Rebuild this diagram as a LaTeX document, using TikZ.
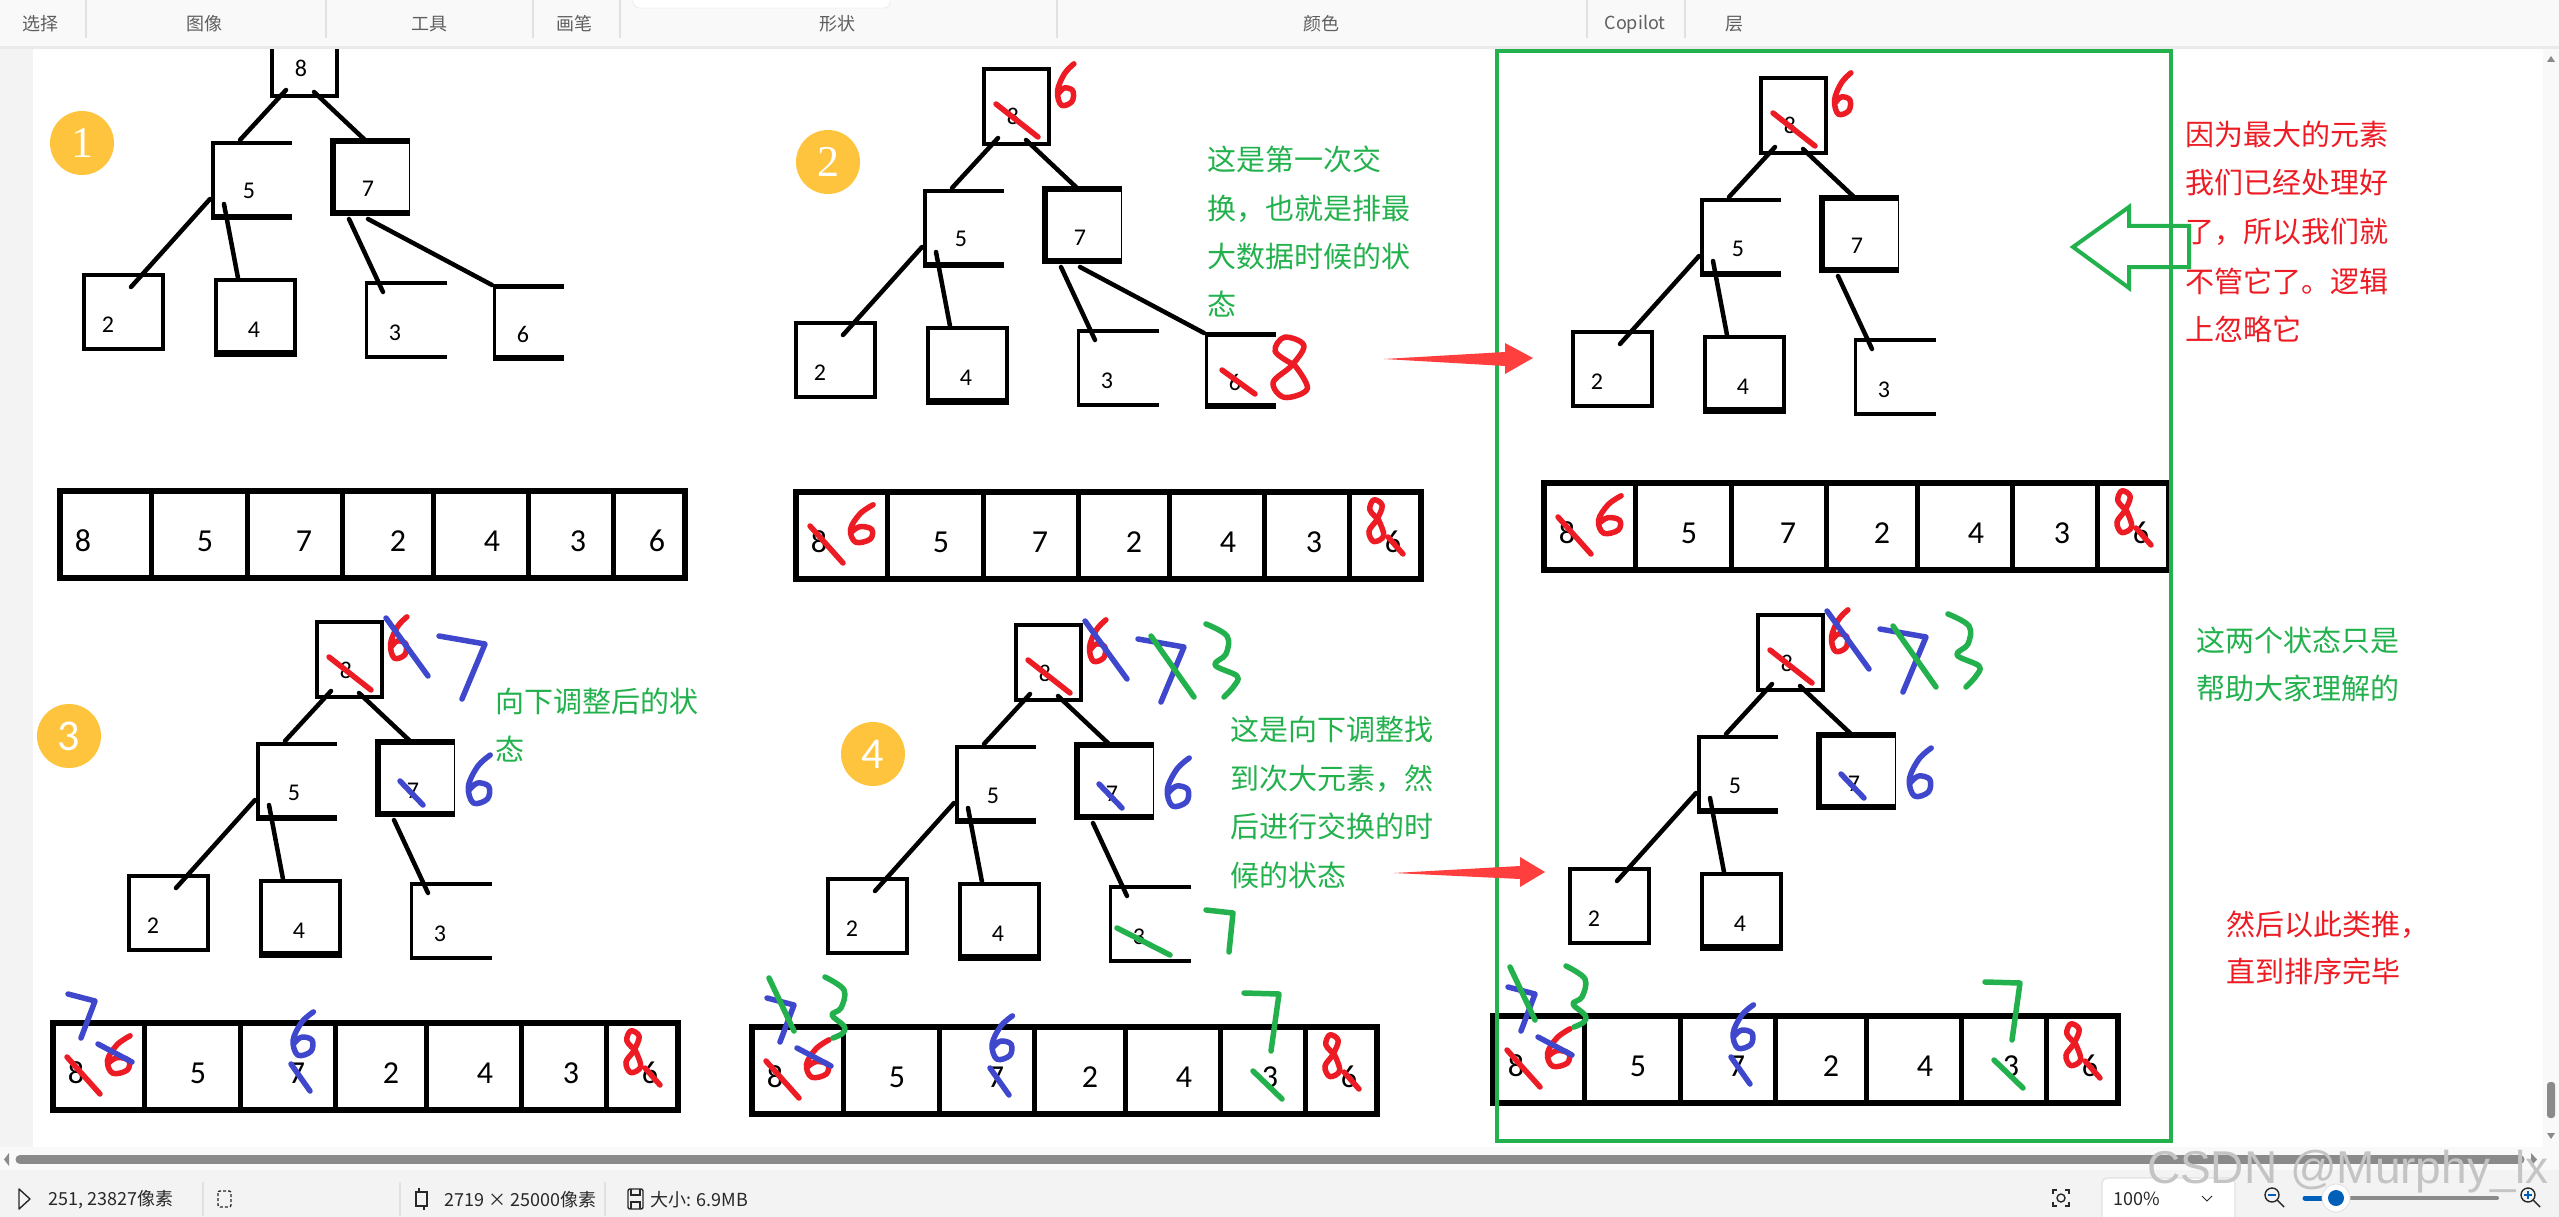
\documentclass[tikz,border=0pt]{standalone}
\usepackage{fontspec}
\setmainfont{Carlito}
\newfontfamily\cjk{Noto Sans CJK SC}
\newfontfamily\lserif{Liberation Serif}
\newfontfamily\lsans{Liberation Sans}
\definecolor{pgreen}{RGB}{34,177,76}
\definecolor{pred}{RGB}{237,28,36}
\definecolor{pblue}{RGB}{63,72,204}
\definecolor{arrred}{RGB}{255,62,62}
\definecolor{circ}{RGB}{255,196,61}
\definecolor{lgray}{RGB}{243,243,243}
\definecolor{scrl}{RGB}{249,249,249}
\definecolor{tbbg}{RGB}{249,249,249}
\definecolor{tbline}{RGB}{234,234,234}
\definecolor{tbgray}{RGB}{95,95,95}
\definecolor{stgray}{RGB}{40,40,40}
\definecolor{sepgray}{RGB}{225,225,225}
\definecolor{scrollgray}{RGB}{138,138,138}
\definecolor{sblue}{RGB}{0,95,184}
\definecolor{wm}{RGB}{196,196,196}

% hand drawn glyphs: colour, x, y, width, height (top-left of box)
\newcommand\hdsix[5]{\begin{scope}[shift={(#2,#3)},xscale=#4,yscale=#5]
 \draw[hstroke,#1] plot[smooth,tension=0.6] coordinates {(0.9,0.02) (0.45,0.25) (0.12,0.65) (0.3,0.98) (0.8,0.9) (0.85,0.65) (0.45,0.58) (0.15,0.72)};
\end{scope}}
\newcommand\hdeight[5]{\begin{scope}[shift={(#2,#3)},xscale=#4,yscale=#5]
 \draw[hstroke,#1] plot[smooth,tension=0.6] coordinates {(0.6,0.47) (0.22,0.25) (0.4,0.02) (0.78,0.15) (0.55,0.47) (0.18,0.75) (0.4,0.99) (0.85,0.85) (0.6,0.47)};
\end{scope}}

% tree parts, coordinates relative to the root box's top-left corner
\newcommand\treecore[1]{%
 \draw[line width=4pt] (2,2) rectangle (67,77);
 \node[dig] (#1n8) at (31,58) {8};
 \coordinate (#1ra) at (16,71); \coordinate (#1rb) at (-30,121);
 \coordinate (#1rc) at (44,73); \coordinate (#1rd) at (95,121);
 \draw[tl] (#1ra) -- (#1rb);
 \draw[tl] (#1rc) -- (#1rd);
 \draw[line width=4.5pt] (22,124) -- (-57,124) -- (-57,197) -- (22,197);
 \draw[line width=6.5pt] (-59,198) -- (22,198);
 \node[dig] (#1n5) at (-21,180) {5};
 \draw[line width=5.5pt] (139,122) -- (63,122) -- (63,194) -- (139,194);
 \draw[line width=1.5pt] (139.5,119) -- (139.5,197);
 \node[dig] (#1n7) at (98,178) {7};
 \coordinate (#1fa) at (-60,180); \coordinate (#1fb) at (-139,268);
 \coordinate (#1fc) at (-46,185); \coordinate (#1fd) at (-32,259);
 \draw[tl] (#1fa) -- (#1fb);
 \draw[tl] (#1fc) -- (#1fd);
 \draw[line width=4.5pt] (-186,256) rectangle (-107,330);
 \node[dig] (#1n2) at (-162,313) {2};
 \draw[line width=4.5pt] (-54,261) rectangle (25,334);
 \draw[line width=7pt] (-56,334) -- (27,334);
 \node[dig] (#1n4) at (-16,318) {4};
}
\newcommand\treethree[1]{%
 \coordinate (#1ta) at (79,200); \coordinate (#1tb) at (113,273);
 \draw[tl] (#1ta) -- (#1tb);
 \draw[line width=4pt] (177,264) -- (96,264);
 \draw[line width=4pt] (96,338) -- (177,338);
 \draw[line width=2.5pt] (96.5,262) -- (96.5,340);
 \node[dig] (#1n3) at (125,321) {3};
}
\newcommand\treesix[1]{%
 \coordinate (#1sa) at (98,200); \coordinate (#1sb) at (222,266);
 \draw[tl] (#1sa) -- (#1sb);
 \draw[line width=5pt] (223,267.5) -- (294,267.5);
 \draw[line width=6pt] (223,339) -- (294,339);
 \draw[line width=2.5pt] (224.5,265) -- (224.5,342);
 \node[dig] (#1n6) at (253,323) {6};
}
% array, relative to its top-left corner
\newcommand\arr[1]{%
 \draw[line width=6.5pt] (3,3) rectangle (628,90);
 \foreach \d in {94,190,285,376,471,556} {\draw[line width=5pt] (\d,3) -- (\d,90);}
 \node[adig] (#1c1) at (26,63) {8};
 \node[adig] (#1c2) at (148,63) {5};
 \node[adig] (#1c3) at (247,63) {7};
 \node[adig] (#1c4) at (341,63) {2};
 \node[adig] (#1c5) at (435,63) {4};
 \node[adig] (#1c6) at (521,63) {3};
 \node[adig] (#1c7) at (600,63) {6};
}
% annotations
\newcommand\rootred{%
 \draw[hstroke,pred] (14,37) -- (56,70);
 \hdsix{pred}{73}{-4}{21}{43}}
\newcommand\rootblue{%
 \draw[hstroke,pblue] (71,-2) -- (113,56);
 \draw[hstroke,pblue] (124,16) -- (170,24) -- (147,79);
 \draw[hstroke,pblue] (85,161) -- (108,185);
 \hdsix{pblue}{150}{134}{28}{50}}
\newcommand\rootgreen{%
 \draw[hstroke,pgreen] (137,13) -- (180,74);
 \draw[hstroke,pgreen] plot[smooth,tension=0.6] coordinates {(192,1) (213,13) (212,31) (201,42) (223,53) (220,63) (210,74)};}
\newcommand\threegreen{%
 \draw[hstroke,pgreen] (103,305) -- (156,332);
 \draw[hstroke,pgreen] (192,287) -- (219,290) -- (215,329);}
\newcommand\sixred{%
 \draw[hstroke,pred] (240,303) -- (273,327);
 \hdeight{pred}{282}{269}{51}{62}}
\newcommand\arrred{%
 \draw[hstroke,pred] (17,37) -- (50,74);
 \hdsix{pred}{54}{15}{29}{39}
 \hdeight{pred}{572}{10}{22}{43}
 \draw[hstroke,pred] (595,48) -- (610,65);}
\newcommand\arrblue{%
 \draw[hstroke,pblue] (48,24) -- (82,42);
 \draw[hstroke,pblue] (18,-26) -- (45,-19) -- (31,18);
 \hdsix{pblue}{240}{-9}{26}{45}
 \draw[hstroke,pblue] (241,44) -- (260,71);}
\newcommand\arrgreen{%
 \draw[hstroke,pgreen] (20,-46) -- (45,7);
 \draw[hstroke,pgreen] plot[smooth,tension=0.6] coordinates {(76,-47) (95,-34) (92,-16) (83,-9) (95,2) (94,9) (84,14)};
 \draw[hstroke,pgreen] (504,47) -- (533,75);
 \draw[hstroke,pgreen] (495,-31) -- (530,-30) -- (522,27);}

\begin{document}
\begin{tikzpicture}[x=1pt,y=-1pt,
 tl/.style={line width=4.5pt, line cap=round},
 hstroke/.style={line width=5.5pt, line cap=round, line join=round},
 dig/.style={font=\fontsize{24}{24}\selectfont, inner sep=0pt, anchor=base},
 adig/.style={font=\fontsize{32}{32}\selectfont, inner sep=0pt, anchor=base},
 gtext/.style={font=\cjk\fontsize{29}{29}\selectfont, text=pgreen, inner sep=0pt, anchor=base west},
 rtext/.style={gtext, text=pred},
 badge/.style={circle, fill=circ, minimum size=64pt, inner sep=0pt, text=white},
 tbl/.style={font=\cjk\fontsize{18}{18}\selectfont, text=tbgray, inner sep=0pt},
 stl/.style={font=\cjk\fontsize{18}{18}\selectfont, text=stgray, inner sep=0pt, anchor=west},
 icon/.style={draw=stgray, line width=1.4pt}]
\useasboundingbox (0,0) rectangle (2559,1217);
\fill[white] (0,0) rectangle (2559,1217);
\fill[lgray] (0,47) rectangle (33,1147);
\fill[scrl] (2543,47) rectangle (2559,1147);

% ---------- panel 1 ----------
\node[badge, font=\lserif\fontsize{44}{44}\selectfont] (b1) at (82,143) {1};
\begin{scope}[shift={(270,19)}] \treecore{pa} \treethree{pa} \treesix{pa} \end{scope}
\begin{scope}[shift={(57,488)}] \arr{aa} \end{scope}

% ---------- panel 2 ----------
\node[badge, font=\lserif\fontsize{44}{44}\selectfont] (b2) at (828,162) {2};
\begin{scope}[shift={(982,67)}] \treecore{pb} \treethree{pb} \treesix{pb} \rootred \sixred \end{scope}
\begin{scope}[shift={(793,489)}] \arr{ab} \arrred \end{scope}
\node[gtext] (t2a) at (1207,171) {这是第一次交};
\node[gtext] (t2b) at (1207,219) {换，也就是排最};
\node[gtext] (t2c) at (1207,267) {大数据时候的状};
\node[gtext] (t2d) at (1207,315) {态};

% ---------- panel 3 (in green frame) ----------
\begin{scope}[shift={(1759,76)}] \treecore{pc} \treethree{pc} \rootred \end{scope}
\begin{scope}[shift={(1541,480)}] \arr{ac} \arrred \end{scope}
\node[rtext] (t3a) at (2185,146) {因为最大的元素};
\node[rtext] (t3b) at (2185,194) {我们已经处理好};
\node[rtext] (t3c) at (2185,243) {了，所以我们就};
\node[rtext] (t3d) at (2185,292) {不管它了。逻辑};
\node[rtext] (t3e) at (2185,340) {上忽略它};
\coordinate (ga) at (2073,247);
\draw[pgreen, line width=4pt] (ga) -- (2129,207) -- (2129,226) -- (2189,226) -- (2189,267) -- (2129,267) -- (2129,288) -- cycle;

% ---------- panel 4 ----------
\node[badge, font=\fontsize{44}{44}\selectfont] (b3) at (69,736) {3};
\begin{scope}[shift={(315,620)}] \treecore{pd} \treethree{pd} \rootred \rootblue \end{scope}
\begin{scope}[shift={(50,1020)}] \arr{ad} \arrred \arrblue \end{scope}
\node[gtext] (t4a) at (495,712) {向下调整后的状};
\node[gtext] (t4b) at (495,760) {态};

% ---------- panel 5 ----------
\node[badge, font=\fontsize{44}{44}\selectfont] (b4) at (873,754) {4};
\begin{scope}[shift={(1014,623)}] \treecore{pe} \treethree{pe} \rootred \rootblue \rootgreen \threegreen \end{scope}
\begin{scope}[shift={(749,1024)}] \arr{ae} \arrred \arrblue \arrgreen \end{scope}
\node[gtext] (t5a) at (1230,740) {这是向下调整找};
\node[gtext] (t5b) at (1230,789) {到次大元素，然};
\node[gtext] (t5c) at (1230,837) {后进行交换的时};
\node[gtext] (t5d) at (1230,886) {候的状态};

% ---------- panel 6 ----------
\begin{scope}[shift={(1756,613)}] \treecore{pf} \rootred \rootblue \rootgreen \end{scope}
\begin{scope}[shift={(1490,1013)}] \arr{af} \arrred \arrblue \arrgreen \end{scope}
\node[gtext] (t6a) at (2196,651) {这两个状态只是};
\node[gtext] (t6b) at (2196,699) {帮助大家理解的};
\node[rtext] (t6c) at (2226,935) {然后以此类推，};
\node[rtext] (t6d) at (2226,982) {直到排序完毕};

% green frame
\draw[pgreen, line width=4pt] (1497,51) rectangle (2171,1141);

% red arrows between panels
\coordinate (ra1) at (1384,359); \coordinate (rb1) at (1533,358);
\fill[arrred] (ra1) -- (1505,352) -- (1505,343) -- (rb1) -- (1505,374) -- (1505,366) -- cycle;
\coordinate (ra2) at (1394,873); \coordinate (rb2) at (1545,872);
\fill[arrred] (ra2) -- (1520,866) -- (1520,857) -- (rb2) -- (1520,887) -- (1520,879) -- cycle;

% ---------- toolbar ----------
\fill[tbbg] (0,0) rectangle (2559,46);
\fill[tbline] (0,46) rectangle (2559,49);
\draw[fill=white, draw=sepgray, rounded corners=6pt] (633,-10) rectangle (890,8);
\foreach \s in {86,326,533,620,1057,1587,1685} {\draw[sepgray, line width=1.2pt] (\s,0) -- (\s,38);}
\node[tbl] (m1) at (41,24) {选择};
\node[tbl] (m2) at (204,24) {图像};
\node[tbl] (m3) at (429,24) {工具};
\node[tbl] (m4) at (574,24) {画笔};
\node[tbl] (m5) at (837,24) {形状};
\node[tbl] (m6) at (1321,24) {颜色};
\node[tbl] (m7) at (1635,24) {Copilot};
\node[tbl] (m8) at (1734,24) {层};

% vertical scrollbar
\fill[scrollgray] (2547,62) -- (2555,62) -- (2551,56) -- cycle;
\fill[scrollgray, rounded corners=3pt] (2547,1082) rectangle (2555,1118);
\fill[scrollgray] (2547,1133) -- (2555,1133) -- (2551,1139) -- cycle;

% ---------- horizontal scrollbar and status bar ----------
\fill[scrl] (0,1147) rectangle (2559,1170);
\fill[lgray] (0,1170) rectangle (2559,1217);
\draw[scrollgray, line width=9pt, line cap=round] (20,1159.5) -- (2520,1159.5);
\fill[scrollgray] (9,1153) -- (9,1166) -- (4,1159.5) -- cycle;
\fill[scrollgray] (2531,1153) -- (2531,1166) -- (2537,1159.5) -- cycle;
\foreach \s in {203,400,605} {\draw[sepgray, line width=1.2pt] (\s,1182) -- (\s,1216);}
\draw[icon, line join=round] (19,1189) -- (19,1209) -- (30,1199) -- cycle;
\node[stl] (s1) at (48,1200) {251, 23827像素};
\draw[icon, dashed, dash pattern=on 3pt off 2pt, rounded corners=2pt] (218,1191) rectangle (231,1207);
\draw[icon] (416,1192) rectangle (427,1206);
\draw[icon] (419,1188) -- (419,1192); \draw[icon] (424,1206) -- (424,1210);
\node[stl] (s2) at (444,1200) {2719 × 25000像素};
\draw[icon, rounded corners=2pt] (628,1189) rectangle (643,1209);
\draw[icon] (631,1189) -- (631,1195) -- (640,1195) -- (640,1189);
\draw[icon] (631,1209) -- (631,1202) -- (640,1202) -- (640,1209);
\node[stl] (s3) at (650,1200) {大小: 6.9MB};
% right part
\draw[icon] (2053,1194) -- (2053,1190) -- (2057,1190);
\draw[icon] (2065,1190) -- (2069,1190) -- (2069,1194);
\draw[icon] (2053,1202) -- (2053,1206) -- (2057,1206);
\draw[icon] (2065,1206) -- (2069,1206) -- (2069,1202);
\draw[icon] (2061,1198) circle (4);
\draw[fill=white, draw=sepgray, line width=1.2pt, rounded corners=5pt] (2102,1178) rectangle (2235,1222);
\node[stl, anchor=center] (s4) at (2137,1199) {100\%};
\draw[icon, line width=1pt] (2202,1196) -- (2207,1201) -- (2212,1196);
\draw[icon] (2272,1195) circle (7);
\draw[icon] (2277,1200) -- (2284,1207);
\draw[sblue, line width=1.6pt] (2268,1195) -- (2276,1195);
\draw[sblue, line width=5pt, line cap=round] (2305,1198) -- (2336,1198);
\draw[scrollgray, line width=4pt, line cap=round] (2346,1198) -- (2497,1198);
\fill[white] (2336,1198) circle (14);
\draw[sepgray, line width=0.8pt] (2336,1198) circle (14);
\fill[sblue] (2336,1198) circle (8);
\draw[icon] (2528,1195) circle (7);
\draw[icon] (2533,1200) -- (2540,1207);
\draw[sblue, line width=1.6pt] (2524,1195) -- (2532,1195) (2528,1191) -- (2528,1199);

% watermark
\node[font=\lsans\fontsize{46}{46}\selectfont, text=wm, inner sep=0pt] (wmk) at (2348,1172) {CSDN @Murphy\_lx};
\end{tikzpicture}
\end{document}
